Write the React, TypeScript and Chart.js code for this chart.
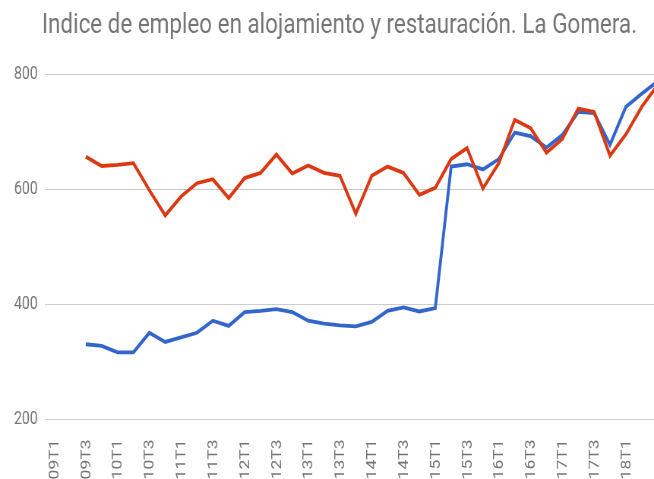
import { useEffect, useRef } from 'react';
import { Chart, registerables } from 'chart.js';

Chart.register(...registerables);

const quarters = [
  '09T1', '09T2', '09T3', '09T4', '10T1', '10T2', '10T3', '10T4',
  '11T1', '11T2', '11T3', '11T4', '12T1', '12T2', '12T3', '12T4',
  '13T1', '13T2', '13T3', '13T4', '14T1', '14T2', '14T3', '14T4',
  '15T1', '15T2', '15T3', '15T4', '16T1', '16T2', '16T3', '16T4',
  '17T1', '17T2', '17T3', '17T4', '18T1', '18T2', '18T3',
];

// indices of quarters that carry a tick label (every second quarter)
const tickIndices = [0, 2, 4, 6, 8, 10, 12, 14, 16, 18, 20, 22, 24, 26, 28, 30, 32, 34, 36];

const yTicks = [200, 400, 600, 800];

const seriesBlue: (number | null)[] = [
  null, null, 330, 327, 316, 316, 350, 334, 342, 350, 371, 362, 386, 388, 391, 386,
  371, 366, 363, 361, 369, 388, 394, 387, 393, 639, 643, 634, 652, 698, 692, 672,
  694, 734, 732, 677, 743, 766, 787,
];

const seriesRed: (number | null)[] = [
  null, null, 656, 640, 642, 645, 598, 554, 587, 610, 617, 584, 619, 628, 660, 627,
  641, 628, 623, 557, 623, 639, 628, 590, 602, 652, 671, 601, 645, 720, 706, 663,
  687, 740, 734, 658, 695, 743, 781,
];

const titleText = 'Indice de empleo en alojamiento y restauración. La Gomera.';

const SX = 0.76; // horizontal compression of the reference picture
const TITLE_K = 1.054; // title face width relative to the rest
const W = 654;
const H = 479;
const IW = Math.round(W / SX);

const titlePlugin = {
  id: 'narrowTitle',
  afterDraw(chart: any) {
    const ctx = chart.ctx as CanvasRenderingContext2D;
    ctx.save();
    ctx.font = '400 28px Roboto';
    ctx.fillStyle = '#757575';
    ctx.textAlign = 'left';
    ctx.textBaseline = 'alphabetic';
    ctx.translate(42 / SX, 33.3);
    ctx.scale(TITLE_K, 1);
    ctx.fillText(titleText, 0, 0);
    ctx.restore();
  },
};

export default function App() {
  const ref = useRef<HTMLCanvasElement | null>(null);

  useEffect(() => {
    if (!ref.current) return;
    const toXY = (arr: (number | null)[]) => arr.map((v, i) => ({ x: i, y: v }));
    const chart = new Chart(ref.current, {
      type: 'line',
      data: {
        datasets: [
          {
            label: 'Serie 1',
            data: toXY(seriesBlue) as any,
            borderColor: '#3366cc',
            backgroundColor: '#3366cc',
            borderWidth: 3.8,
            pointRadius: 0,
            tension: 0,
            order: 1,
          },
          {
            label: 'Serie 2',
            data: toXY(seriesRed) as any,
            borderColor: '#dc3912',
            backgroundColor: '#dc3912',
            borderWidth: 3.8,
            pointRadius: 0,
            tension: 0,
            order: 0,
          },
        ],
      },
      options: {
        responsive: false,
        animation: false,
        devicePixelRatio: 1,
        layout: { padding: { left: 0, right: 0, top: 74, bottom: 0 } },
        plugins: {
          legend: { display: false },
          tooltip: { enabled: false },
          title: { display: false },
        },
        scales: {
          x: {
            type: 'linear',
            min: -0.567,
            max: 37.77,
            grid: { display: false },
            border: { display: false },
            afterBuildTicks: (s: any) => {
              s.ticks = tickIndices.map((v) => ({ value: v }));
            },
            afterFit: (s: any) => {
              s.height = 60;
            },
            ticks: {
              autoSkip: false,
              minRotation: 90,
              maxRotation: 90,
              padding: 12.5,
              labelOffset: 1.3,
              color: '#757575',
              font: { family: 'Roboto', size: 17.5 },
              callback: (v: any) => quarters[Number(v)] ?? '',
            },
          },
          y: {
            min: 200,
            max: 800,
            grid: { color: '#cccccc', drawTicks: false, lineWidth: 1 },
            border: { display: false },
            afterBuildTicks: (s: any) => {
              s.ticks = yTicks.map((v) => ({ value: v }));
            },
            afterFit: (s: any) => {
              s.width = 45 / SX;
            },
            ticks: {
              padding: 9.6,
              color: '#757575',
              font: { family: 'Roboto', size: 18.5 },
            },
          },
        },
      },
      plugins: [titlePlugin],
    });
    return () => chart.destroy();
  }, []);

  return (
    <div style={{ position: 'fixed', left: 0, top: 0, width: W, height: H, overflow: 'hidden', background: '#fff' }}>
      <canvas
        ref={ref}
        width={IW}
        height={H}
        style={{ width: `${W}px`, height: `${H}px`, display: 'block' }}
      />
    </div>
  );
}
